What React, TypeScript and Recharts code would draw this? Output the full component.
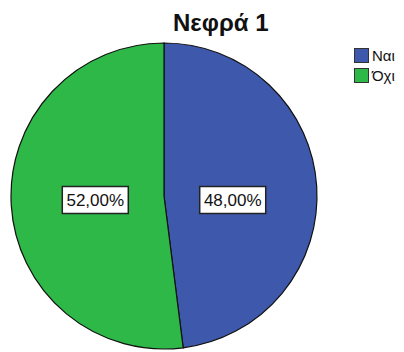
import { Cell, Legend, Pie, PieChart } from "recharts";

const categories = ["Ναι", "Όχι"];
const percents = [48, 52];
const colors = ["#3E58AC", "#2EB848"];
const title = "Νεφρά 1";

const data = categories.map((name, i) => ({ name, value: percents[i] }));

const fmt = (v: number) => v.toFixed(2).replace(".", ",") + "%";

const renderLabel = (props: any) => {
  const { cx, cy, midAngle, outerRadius, value } = props;
  const RAD = Math.PI / 180;
  const r = outerRadius * 0.45;
  const x = cx + r * Math.cos(-midAngle * RAD);
  const y = cy + 4;
  const w = 66;
  const h = 27;
  return (
    <g>
      <rect
        x={x - w / 2}
        y={y - h / 2}
        width={w}
        height={h}
        fill="#fff"
        stroke="#222"
        strokeWidth={1.5}
      />
      <text
        x={x}
        y={y + 6}
        textAnchor="middle"
        fontSize={17}
        fontFamily="'Liberation Sans', Arial, sans-serif"
        fill="#111"
      >
        {fmt(value)}
      </text>
    </g>
  );
};

const LegendBox = () => (
  <div style={{ fontFamily: "'Liberation Sans', Arial, sans-serif" }}>
    {categories.map((c, i) => (
      <div
        key={c}
        style={{ display: "flex", alignItems: "center", height: 20 }}
      >
        <span
          style={{
            width: 15,
            height: 15,
            background: colors[i],
            border: "1px solid #333",
            boxSizing: "border-box",
            display: "inline-block",
            marginRight: 3,
          }}
        />
        <span style={{ fontSize: 15, color: "#111" }}>{c}</span>
      </div>
    ))}
  </div>
);

export default function App() {
  return (
    <div style={{ position: "absolute", left: 0, top: 0, width: 404, height: 352, background: "#fff" }}>
      <div
        style={{
          position: "absolute",
          left: 173,
          top: 8,
          fontFamily: "'Liberation Sans', Arial, sans-serif",
          fontWeight: "bold",
          fontSize: 24,
          color: "#111",
          lineHeight: "30px",
          whiteSpace: "nowrap",
        }}
      >
        {title}
      </div>
      <PieChart width={404} height={352} margin={{ top: 0, right: 0, bottom: 0, left: 0 }}>
        <Pie
          data={data}
          dataKey="value"
          nameKey="name"
          cx={164}
          cy={196}
          outerRadius={153}
          startAngle={90}
          endAngle={-270}
          stroke="#111"
          strokeWidth={1.2}
          label={renderLabel}
          labelLine={false}
          isAnimationActive={false}
        >
          {data.map((d, i) => (
            <Cell key={d.name} fill={colors[i]} />
          ))}
        </Pie>
        <Legend
          layout="vertical"
          align="right"
          verticalAlign="top"
          content={<LegendBox />}
          wrapperStyle={{ left: 354, top: 45, width: 50 }}
        />
      </PieChart>
    </div>
  );
}
